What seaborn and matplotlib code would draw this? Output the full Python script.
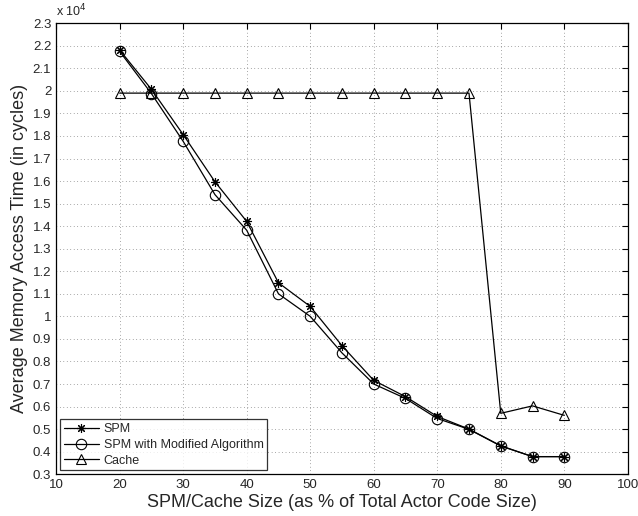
import numpy as np
import pandas as pd
import matplotlib
matplotlib.use('Agg')
import matplotlib.pyplot as plt
import seaborn as sns
from matplotlib.ticker import MultipleLocator, FuncFormatter

# data (cycles)
sizes = [20, 25, 30, 35, 40, 45, 50, 55, 60, 65, 70, 75, 80, 85, 90]
spm = [21810, 20070, 18060, 15970, 14210, 11490, 10440, 8700, 7160, 6440, 5560, 5000, 4260, 3780, 3780]
spm_mod = [21750, 19880, 17760, 15400, 13820, 11000, 10000, 8380, 7000, 6360, 5470, 4990, 4250, 3780, 3780]
cache = [19900, 19900, 19900, 19900, 19900, 19900, 19900, 19900, 19900, 19900, 19900, 19900, 5700, 6030, 5610]
series_names = ['SPM', 'SPM with Modified Algorithm', 'Cache']
series_markers = [(8, 2, 0), 'o', '^']
series_msize = [6.5, 7.5, 7.5]

sns.set_style('white')
plt.rcParams['font.family'] = ['Liberation Sans', 'DejaVu Sans']

fig = plt.figure(figsize=(6.38, 5.16), dpi=100)
ax = fig.add_axes([0.088, 0.081, 0.896, 0.874])

for name, vals, mk, ms in zip(series_names, [spm, spm_mod, cache], series_markers, series_msize):
    sns.lineplot(x=sizes, y=vals, color='black', marker=mk, markersize=ms,
                 markerfacecolor='none', markeredgecolor='black', markeredgewidth=0.8,
                 linewidth=0.9, label=name, ax=ax)

ax.set_xlim(10, 100)
ax.set_ylim(3000, 23000)
ax.xaxis.set_major_locator(MultipleLocator(10))
ax.yaxis.set_major_locator(MultipleLocator(1000))
ax.yaxis.set_major_formatter(FuncFormatter(lambda v, p: '%g' % round(v / 1e4, 2)))
ax.grid(True, linestyle=(0, (1, 4)), color='#555555', linewidth=0.5)
ax.tick_params(direction='in', top=True, right=True, length=4, labelsize=9.5, width=0.8, color='black')
for s in ax.spines.values():
    s.set_color('black')
    s.set_linewidth(0.9)

ax.set_xlabel('SPM/Cache Size (as % of Total Actor Code Size)', fontsize=13, labelpad=2)
ax.set_ylabel('Average Memory Access Time (in cycles)', fontsize=13, labelpad=3)
ax.text(0.0, 1.008, r'x 10$^{4}$', transform=ax.transAxes, fontsize=9, va='bottom', ha='left')

leg = ax.legend(loc='lower left', fontsize=9, frameon=True, fancybox=False,
                borderaxespad=0.3, handlelength=2.8, borderpad=0.3, labelspacing=0.3,
                handletextpad=0.4)
leg.get_frame().set_edgecolor('black')
leg.get_frame().set_linewidth(0.9)

fig.savefig('out.png', dpi=100)
